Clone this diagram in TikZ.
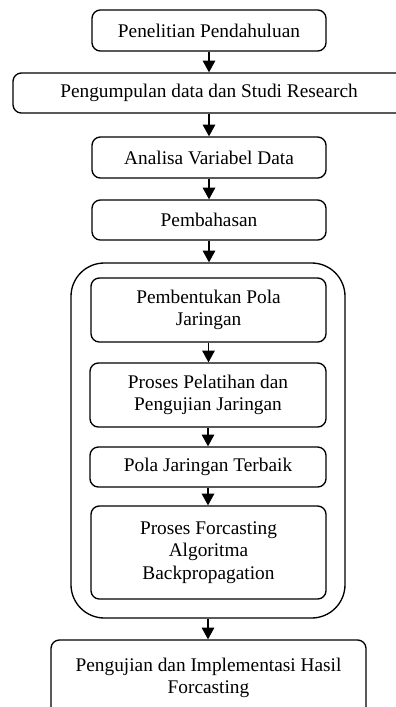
\documentclass[tikz,border=0pt]{standalone}
\usepackage{fontspec}
\setmainfont{Liberation Serif}
\usepackage{tikz}
\usetikzlibrary{arrows.meta,shapes}
\tikzstyle{stage}=[draw,rounded corners=5pt,line width=0.8pt,align=center,inner sep=0pt,font=\fontsize{11.6}{13.6}\selectfont]
\tikzstyle{frame}=[draw,rounded corners=20pt,line width=0.8pt,inner sep=0pt]
\tikzstyle{flow}=[-{Triangle[width=7.5pt,length=7pt]},line width=0.7pt]

\begin{document}
\begin{tikzpicture}[x=0.6pt,y=-0.6pt]
        \useasboundingbox (0,0) rectangle (396,707);
        \clip (0,0) rectangle (396,707);
        \node at (209, 30.5) [stage,minimum width=140.4pt,minimum height=24.6pt] (P) {Penelitian Pendahuluan};
        \node at (230, 93) [stage,minimum width=260.4pt,minimum height=24pt] (K) {\hspace*{-25.2pt}Pengumpulan data dan Studi Research};
        \node at (209, 157.5) [stage,minimum width=140.4pt,minimum height=24.6pt] (A) {Analisa Variabel Data};
        \node at (209, 220) [stage,minimum width=140.4pt,minimum height=24pt] (B) {Pembahasan};
        \node at (208, 440.5) [frame,minimum width=164.4pt,minimum height=213pt] (F) {};
        \node at (208.5, 310) [stage,minimum width=141pt,minimum height=38.4pt] (J1) {Pembentukan Pola\\Jaringan};
        \node at (208, 395) [stage,minimum width=141.6pt,minimum height=38.4pt] (J2) {Proses Pelatihan dan\\Pengujian Jaringan};
        \node at (208, 467) [stage,minimum width=141.6pt,minimum height=24pt] (J3) {Pola Jaringan Terbaik};
        \node at (208.5, 552.5) [stage,minimum width=141pt,minimum height=55.8pt] (J4) {Proses Forcasting\\Algoritma\\Backpropagation};
        \node at (208.5, 678) [stage,minimum width=189pt,minimum height=45.6pt] (H) {Pengujian dan Implementasi Hasil\\Forcasting};
        \draw [flow] (P) to (P |- K.north);
        \draw [flow] (P |- K.south) to (A);
        \draw [flow] (A) to (B);
        \draw [flow] (B.south) to (B.south |- F.north);
        \draw [flow] (J1.south) to (J1.south |- J2.north);
        \draw [flow] (J2) to (J3);
        \draw [flow] (J3.south) to (J3.south |- J4.north);
        \draw [flow] (F.south) to (F.south |- H.north);
      \end{tikzpicture}
\end{document}
